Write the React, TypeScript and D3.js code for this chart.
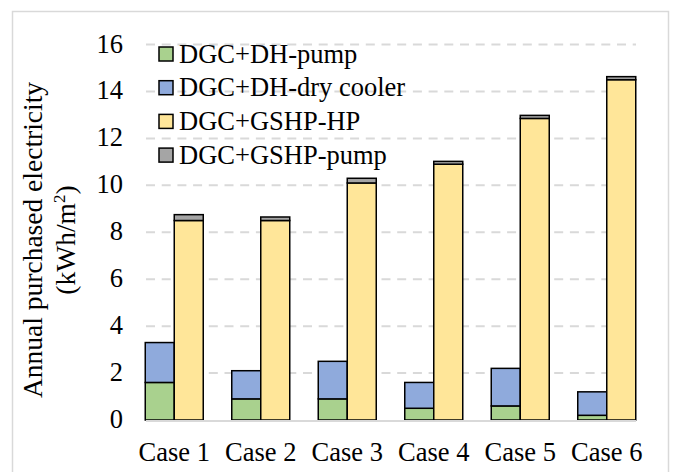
import { useEffect, useRef } from 'react'
import * as d3 from 'd3'

const CASES = ['Case 1', 'Case 2', 'Case 3', 'Case 4', 'Case 5', 'Case 6']
const DH_PUMP = [1.6, 0.9, 0.9, 0.5, 0.6, 0.2]
const DH_DRY_COOLER = [1.7, 1.2, 1.6, 1.1, 1.6, 1.0]
const GSHP_HP = [8.5, 8.5, 10.1, 10.9, 12.85, 14.5]
const GSHP_PUMP = [0.25, 0.15, 0.2, 0.12, 0.13, 0.13]
const Y_TICKS = [0, 2, 4, 6, 8, 10, 12, 14, 16]

const SERIES = [
  { name: 'DGC+DH-pump', color: '#A9D18E' },
  { name: 'DGC+DH-dry cooler', color: '#8FAADC' },
  { name: 'DGC+GSHP-HP', color: '#FFE699' },
  { name: 'DGC+GSHP-pump', color: '#A5A5A5' },
]

const FONT = '"Liberation Serif", "Times New Roman", serif'
const FS = 26.5

export default function App() {
  const svgRef = useRef<SVGSVGElement>(null)

  useEffect(() => {
    const svg = d3.select(svgRef.current)
    svg.selectAll('*').remove()

    const W = 674
    const H = 472

    svg.attr('width', W).attr('height', H)

    svg.append('rect').attr('width', W).attr('height', H).attr('fill', '#fff')

    // outer chart border
    svg
      .append('rect')
      .attr('x', 12.5)
      .attr('y', 11.5)
      .attr('width', 656)
      .attr('height', 480)
      .attr('fill', 'none')
      .attr('stroke', '#D9D9D9')
      .attr('stroke-width', 1.5)

    const x = d3.scaleBand().domain(CASES).range([131, 650]).padding(0)
    const y = d3.scaleLinear().domain([0, 16]).range([420, 44.5])
    const barW = 29
    const gridX1 = 146
    const gridX2 = 636

    // gridlines
    svg
      .append('g')
      .selectAll('line')
      .data(Y_TICKS.filter(d => d > 0))
      .enter()
      .append('line')
      .attr('x1', gridX1)
      .attr('x2', gridX2)
      .attr('y1', d => y(d))
      .attr('y2', d => y(d))
      .attr('stroke', '#D9D9D9')
      .attr('stroke-width', 2)
      .attr('stroke-dasharray', '9,6.7')

    // tick labels
    svg
      .append('g')
      .selectAll('text')
      .data(Y_TICKS)
      .enter()
      .append('text')
      .attr('x', 123)
      .attr('y', d => y(d) + 8)
      .attr('text-anchor', 'end')
      .attr('font-family', FONT)
      .attr('font-size', FS)
      .attr('fill', '#000')
      .text(d => d)

    const stacks = [
      { offset: -barW, layers: [DH_PUMP, DH_DRY_COOLER], colors: [SERIES[0].color, SERIES[1].color] },
      { offset: 0, layers: [GSHP_HP, GSHP_PUMP], colors: [SERIES[2].color, SERIES[3].color] },
    ]

    const bars = svg.append('g')
    CASES.forEach((c, i) => {
      const cx = (x(c) as number) + x.bandwidth() / 2
      stacks.forEach(s => {
        let base = 0
        s.layers.forEach((arr, k) => {
          const v = arr[i]
          bars
            .append('rect')
            .attr('x', cx + s.offset)
            .attr('y', y(base + v))
            .attr('width', barW)
            .attr('height', y(base) - y(base + v))
            .attr('fill', s.colors[k])
            .attr('stroke', '#000')
            .attr('stroke-width', 1.5)
          base += v
        })
      })
    })

    // baseline
    svg
      .append('line')
      .attr('x1', gridX1)
      .attr('x2', gridX2)
      .attr('y1', y(0) + 1)
      .attr('y2', y(0) + 1)
      .attr('stroke', '#D9D9D9')
      .attr('stroke-width', 2)

    // x labels
    svg
      .append('g')
      .selectAll('text')
      .data(CASES)
      .enter()
      .append('text')
      .attr('x', d => (x(d) as number) + x.bandwidth() / 2)
      .attr('y', 461)
      .attr('text-anchor', 'middle')
      .attr('font-family', FONT)
      .attr('font-size', FS)
      .attr('fill', '#000')
      .text(d => d)

    // y axis title
    const title = svg
      .append('text')
      .attr('transform', 'translate(42,240) rotate(-90)')
      .attr('text-anchor', 'middle')
      .attr('font-family', FONT)
      .attr('font-size', 27.5)
      .attr('fill', '#000')
    title.append('tspan').attr('x', 0).attr('y', 0).text('Annual purchased electricity')
    const t2 = title.append('tspan').attr('x', 0).attr('y', 33)
    t2.append('tspan').text('(kWh/m')
    t2.append('tspan').attr('font-size', 17).attr('dy', -10).text('2')
    t2.append('tspan').attr('dy', 10).text(')')

    // legend
    const legend = svg.append('g')
    SERIES.forEach((s, i) => {
      const ly = 54 + i * 33.7
      legend
        .append('rect')
        .attr('x', 159)
        .attr('y', ly - 7)
        .attr('width', 14)
        .attr('height', 14)
        .attr('fill', s.color)
        .attr('stroke', '#000')
        .attr('stroke-width', 1.5)
      legend
        .append('text')
        .attr('x', 179)
        .attr('y', ly + 8.5)
        .attr('font-family', FONT)
        .attr('font-size', FS)
        .attr('fill', '#000')
        .text(s.name)
    })
  }, [])

  return (
    <div style={{ position: 'absolute', left: 0, top: 0 }}>
      <svg ref={svgRef}></svg>
    </div>
  )
}
